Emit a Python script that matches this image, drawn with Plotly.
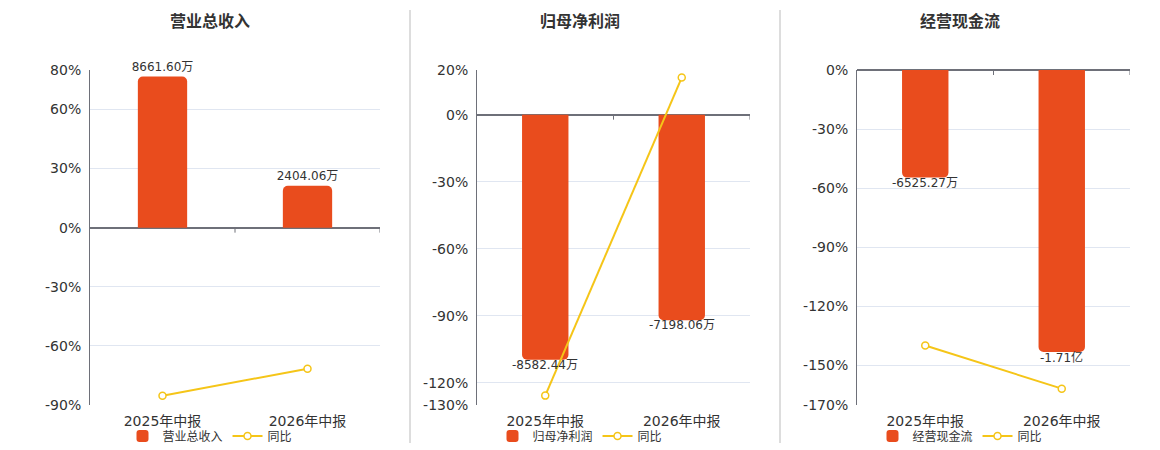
import plotly.graph_objects as go

# ----------------------------------------------------------------------
# data (万元; 同比 in %)
# ----------------------------------------------------------------------
periods = ["2025年中报", "2026年中报"]

revenue = [8661.60, 2404.06]
revenue_text = ["8661.60万", "2404.06万"]
revenue_yoy = [-85.3, -71.6]

profit = [-8582.44, -7198.06]
profit_text = ["-8582.44万", "-7198.06万"]
profit_yoy = [-125.8, 16.6]

cashflow = [-6525.27, -17100.0]
cashflow_text = ["-6525.27万", "-1.71亿"]
cashflow_yoy = [-139.8, -161.7]

titles = ["营业总收入", "归母净利润", "经营现金流"]

pct_ticks = [
    [-90, -60, -30, 0, 30, 60, 80],
    [-130, -120, -90, -60, -30, 0, 20],
    [-170, -150, -120, -90, -60, -30, 0],
]

# ----------------------------------------------------------------------
W, H = 1160, 450
OFF = 8   # the page body margin shifts the figure by this much
FONT = "DejaVu Sans, Noto Sans CJK SC, sans-serif"
BAR = "#E94C1D"
LINE = "#F5C518"
AXIS = "#6E7079"
GRID = "#E0E6F1"
TXT = "#333333"


def px(x):
    return (x - OFF) / W


def py(y):
    return 1 - (y - OFF) / H


# per panel: x domain (px), pct range, bar-axis range (zero kept aligned)
panels = [
    dict(dom=(90, 380), pct=(-90, 80), bars=(-90 * 113.0, 80 * 113.0), cx=210,
         vals=revenue, text=revenue_text, yoy=revenue_yoy),
    dict(dom=(477, 750), pct=(-130, 20), bars=(-130 * 78.2, 20 * 78.2), cx=580,
         vals=profit, text=profit_text, yoy=profit_yoy),
    dict(dom=(857, 1130), pct=(-170, 0), bars=(-170 * 119.5, 0), cx=960,
         vals=cashflow, text=cashflow_text, yoy=cashflow_yoy),
]

y_dom = [py(405), py(70)]

fig = go.Figure()
layout = {}
shapes = []
annotations = []

for i, p in enumerate(panels):
    xn = "" if i == 0 else str(i + 1)
    yb = "" if i == 0 else str(2 * i + 1)      # bar axis (hidden)
    yp = str(2 * i + 2)                         # percent axis (shown)
    lg = "legend" if i == 0 else "legend%d" % (i + 1)

    # positive labels sit above the bar; negative ones go in annotations
    # so they can hug the bar end like the original
    pos_text = [t if v >= 0 else "" for v, t in zip(p["vals"], p["text"])]

    fig.add_trace(go.Bar(
        x=periods, y=p["vals"], name=titles[i],
        xaxis="x" + xn, yaxis="y" + yb, legend=lg,
        marker=dict(color=BAR, cornerradius=5, line_width=0),
        width=0.34,
        text=pos_text, textposition="outside", constraintext="none",
        textfont=dict(size=12, color=TXT, family=FONT),
        cliponaxis=False,
    ))
    fig.add_trace(go.Scatter(
        x=periods, y=p["yoy"], name="同比",
        xaxis="x" + xn, yaxis="y" + yp, legend=lg,
        mode="lines+markers",
        line=dict(color=LINE, width=2),
        marker=dict(symbol="circle", size=7, color="white",
                    line=dict(color=LINE, width=1.5)),
        cliponaxis=False,
    ))

    for cat, v, t in zip(periods, p["vals"], p["text"]):
        if v < 0:
            annotations.append(dict(
                text=t, xref="x" + xn, yref="y" + yb, x=cat, y=v,
                xanchor="center", yanchor="top", yshift=4, showarrow=False,
                font=dict(size=12, color=TXT, family=FONT),
            ))

    layout["xaxis" + xn] = dict(
        domain=[px(p["dom"][0]), px(p["dom"][1])], anchor="y" + yb,
        type="category", range=[-0.5, 1.5],
        showgrid=False, zeroline=False, showline=False, ticks="",
        ticklabelstandoff=6,
        tickfont=dict(size=14, color=TXT, family=FONT),
    )
    layout["yaxis" + yb] = dict(
        domain=y_dom, anchor="x" + xn, range=list(p["bars"]),
        showgrid=False, showticklabels=False, ticks="", showline=False,
        zeroline=True, zerolinecolor=AXIS, zerolinewidth=2,
    )
    layout["yaxis" + yp] = dict(
        overlaying="y" + yb, anchor="x" + xn, side="left",
        range=list(p["pct"]), tickmode="array", tickvals=pct_ticks[i],
        ticktext=["%d%%" % v for v in pct_ticks[i]],
        ticks="", ticklabelstandoff=5,
        tickfont=dict(size=14, color=TXT, family=FONT),
        showgrid=True, gridcolor=GRID, gridwidth=1, zeroline=False,
        showline=True, linecolor=AXIS, linewidth=1,
    )
    layout[lg] = dict(
        orientation="h", x=px(p["cx"]), xanchor="center",
        y=py(436), yanchor="middle",
        font=dict(size=12, color=TXT, family=FONT),
        itemwidth=30, tracegroupgap=0, bgcolor="rgba(0,0,0,0)",
    )

    # small tick marks hanging from the zero axis at category boundaries
    for b in (0.5, 1.5):
        shapes.append(dict(
            type="line", xref="x" + xn, yref="y" + yb,
            x0=b, x1=b, ysizemode="pixel", yanchor=0, y0=0, y1=-5,
            line=dict(color=AXIS, width=1),
        ))

    annotations.append(dict(
        text="<b>%s</b>" % titles[i], xref="paper", yref="paper",
        x=px(p["cx"]), y=py(22), xanchor="center", yanchor="middle",
        showarrow=False, font=dict(size=16, color=TXT, family=FONT),
    ))

# panel separators
for sx in (410, 780):
    shapes.append(dict(
        type="line", xref="paper", yref="paper",
        x0=px(sx), x1=px(sx), y0=py(443), y1=py(10),
        line=dict(color="#BBBBBB", width=1),
    ))

fig.update_layout(
    width=W, height=H,
    margin=dict(l=0, r=0, t=0, b=0, autoexpand=False),
    paper_bgcolor="white", plot_bgcolor="white",
    font=dict(family=FONT, color=TXT),
    showlegend=True, hovermode="x",
    shapes=shapes, annotations=annotations,
    **layout,
)

fig.write_html("out.html")
